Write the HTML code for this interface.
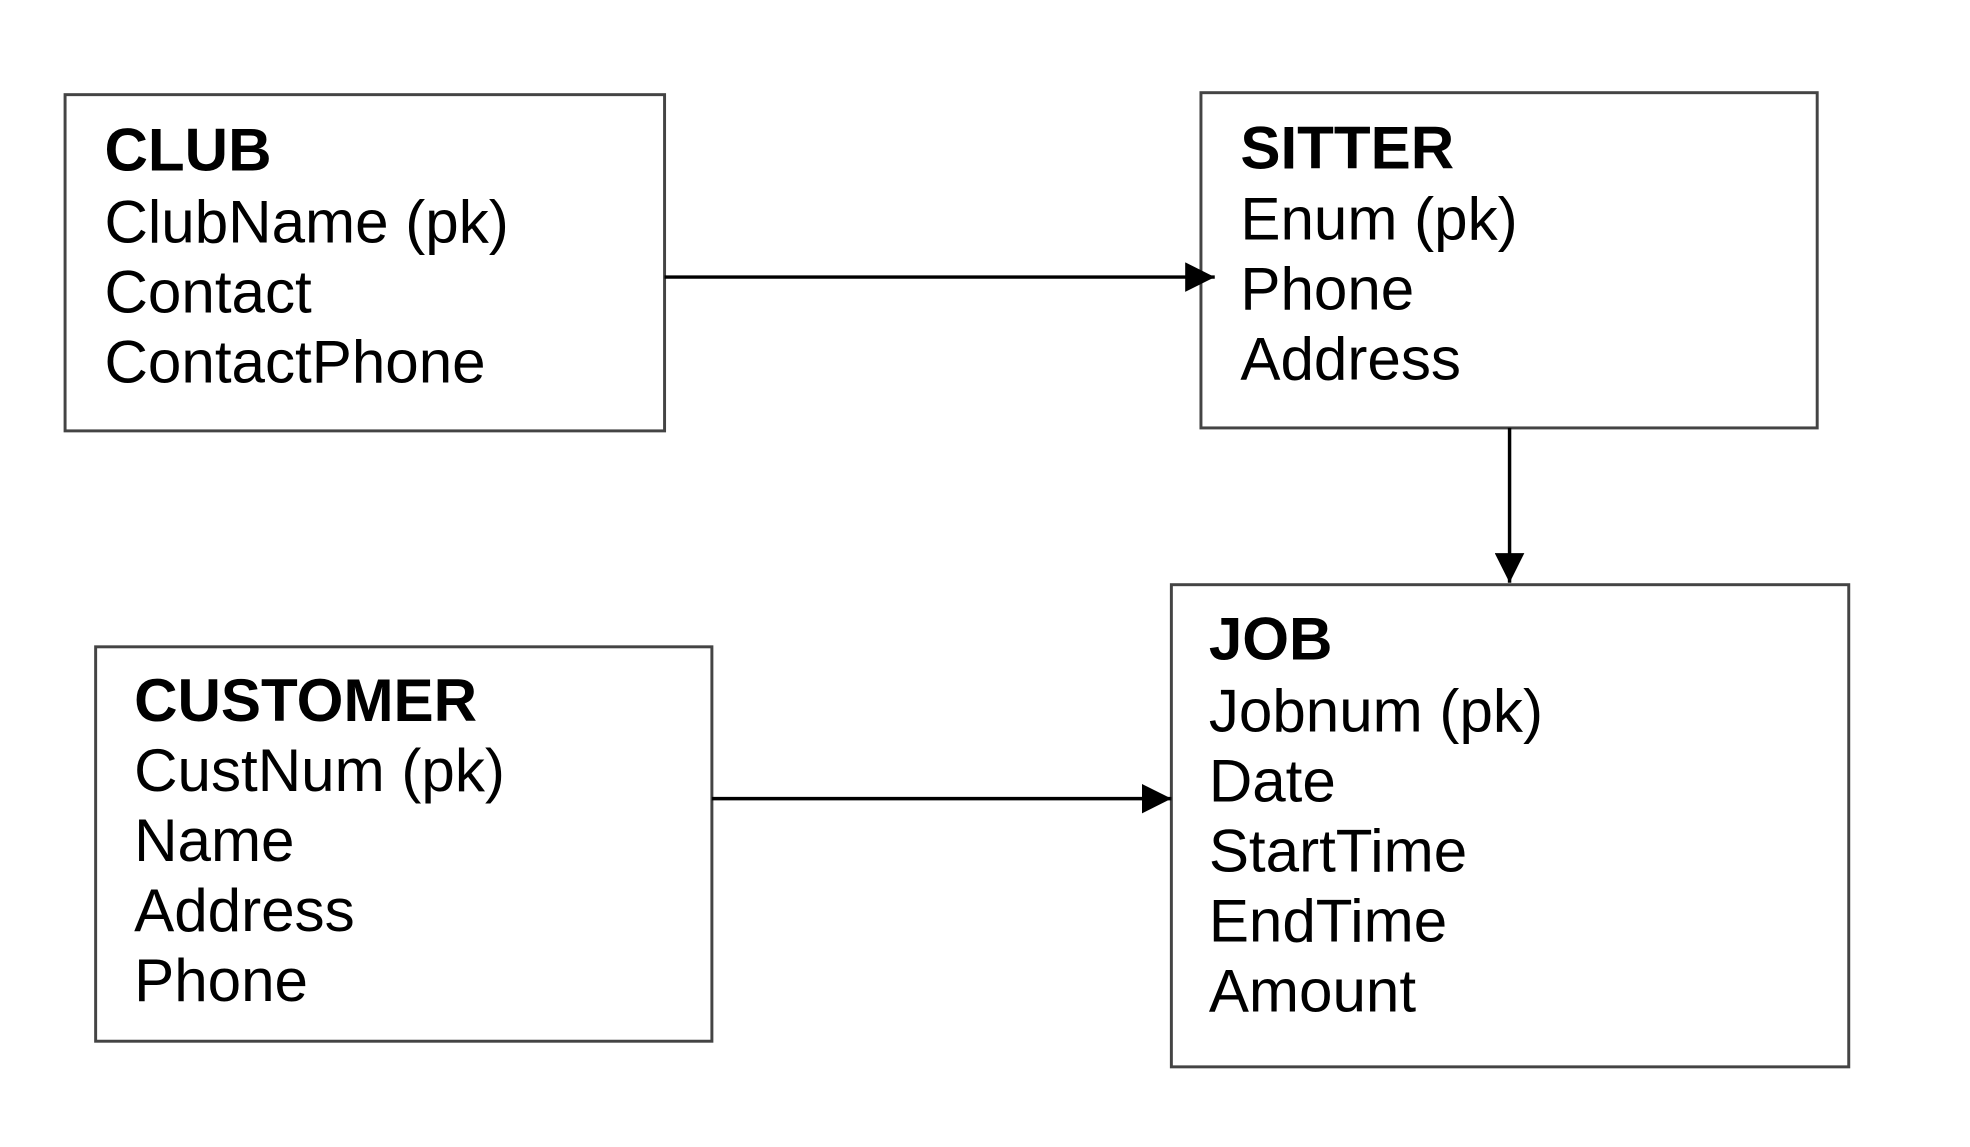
<!DOCTYPE html>
<html><head><meta charset="utf-8"><style>
html,body{margin:0;padding:0;background:#fff;width:1970px;height:1147px;overflow:hidden}
text{font-family:"Liberation Sans",Arial,sans-serif;font-size:61px;fill:#000}
.b{font-weight:bold}
</style></head><body>
<svg width="1970" height="1147" xmlns="http://www.w3.org/2000/svg">
<defs>
<marker id="m" viewBox="0 0 10 10" refX="10" refY="5" markerWidth="30" markerHeight="30" orient="auto" markerUnits="userSpaceOnUse"><path d="M0,0 L10,5 L0,10 z" fill="#000"/></marker></defs>
<g transform="scale(0.986)">
<g fill="none" stroke="#444" stroke-width="3">
<rect x="66" y="96" width="608" height="341"/>
<rect x="1218" y="94" width="625" height="340"/>
<rect x="1188" y="593" width="687" height="489"/>
<rect x="97" y="656" width="625" height="400"/>
</g>
<g stroke="#000" stroke-width="3.5">
<line x1="674" y1="281" x2="1232" y2="281" marker-end="url(#m)"/>
<line x1="1531" y1="434" x2="1531" y2="591" marker-end="url(#m)"/>
<line x1="722" y1="810" x2="1188" y2="810" marker-end="url(#m)"/>
</g>
<text class="b" x="106" y="173">CLUB</text>
<text x="106" y="246">ClubName (pk)</text>
<text x="106" y="317">Contact</text>
<text x="106" y="388">ContactPhone</text>
<text class="b" x="1258" y="171">SITTER</text>
<text x="1258" y="243">Enum (pk)</text>
<text x="1258" y="314">Phone</text>
<text x="1258" y="385">Address</text>
<text class="b" x="1226" y="669">JOB</text>
<text x="1226" y="742">Jobnum (pk)</text>
<text x="1226" y="813">Date</text>
<text x="1226" y="884">StartTime</text>
<text x="1226" y="955">EndTime</text>
<text x="1226" y="1026">Amount</text>
<text class="b" x="136" y="731">CUSTOMER</text>
<text x="136" y="802">CustNum (pk)</text>
<text x="136" y="873">Name</text>
<text x="136" y="944">Address</text>
<text x="136" y="1015">Phone</text>
</g>
</svg>
</body></html>
